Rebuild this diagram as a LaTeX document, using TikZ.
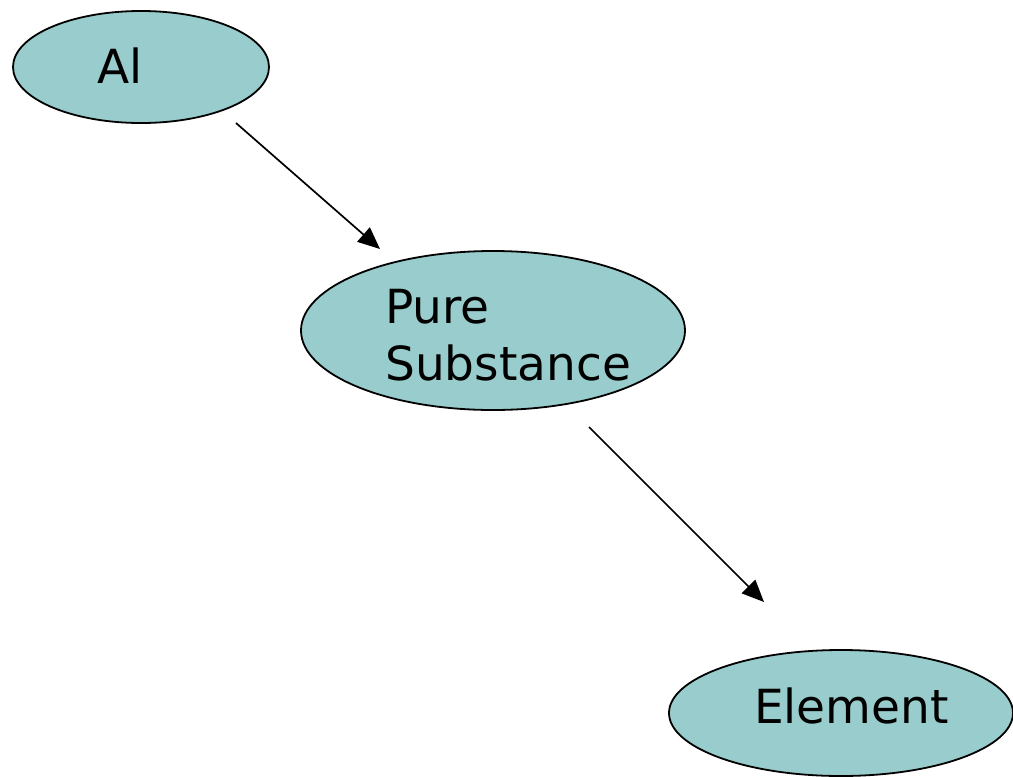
\documentclass[tikz,border=0pt]{standalone}
\usepackage{fontspec}
\setmainfont{DejaVu Sans}
\usetikzlibrary{arrows.meta,shapes.geometric}
\definecolor{bubble}{RGB}{153,204,204}
\tikzset{
  bubblebox/.style={ellipse, draw=black, line width=1.8pt, fill=bubble, inner sep=0pt},
  caption/.style={font=\fontsize{47}{57}\selectfont, inner sep=0pt, align=left, text=black},
  link/.style={line width=1.7pt, -{Triangle[length=22pt,width=19pt]}}
}
\begin{document}
\begin{tikzpicture}[x=1pt,y=-1pt]
  \useasboundingbox (0,0) rectangle (1013,777);
  % concept bubbles
  \node[bubblebox, minimum width=256pt, minimum height=112pt] (al) at (141,67) {};
  \node[bubblebox, minimum width=384pt, minimum height=159pt] (ps) at (493,330.5) {};
  \node[bubblebox, minimum width=344pt, minimum height=126pt] (el) at (841,713) {};
  % bubble texts (base anchor sits on the last line)
  \node[caption, anchor=base west] (altext) at (97,83) {Al};
  \node[caption, anchor=base west] (pstext) at (385,380) {Pure\\Substance};
  \node[caption, anchor=base west] (eltext) at (754,723) {Element};
  % arrow ends
  \coordinate (a1s) at (236,123);
  \coordinate (a1e) at (380,249);
  \coordinate (a2s) at (589,427);
  \coordinate (a2e) at (764,602);
  \draw[link] (a1s) -- (a1e);
  \draw[link] (a2s) -- (a2e);
\end{tikzpicture}
\end{document}
